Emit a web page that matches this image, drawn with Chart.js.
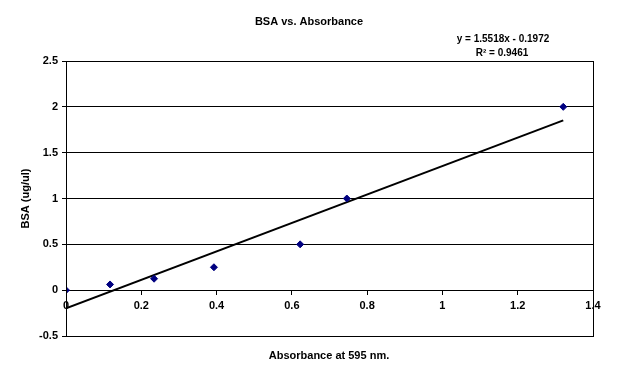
<!DOCTYPE html>
<html>
<head>
<meta charset="utf-8">
<title>BSA vs. Absorbance</title>
<script src="https://cdn.jsdelivr.net/npm/chart.js@4.4.1/dist/chart.umd.min.js"></script>
<style>
  html, body { margin: 0; padding: 0; background: #fff; }
  #wrap { width: 617px; height: 383px; }
</style>
</head>
<body>
<div id="wrap"><canvas id="bsaChart" width="617" height="383"></canvas></div>
<script>
  // Data
  const absorbance = [0, 0.117, 0.234, 0.393, 0.622, 0.746, 1.321];
  const bsa = [0, 0.0625, 0.125, 0.25, 0.5, 1, 2];

  // Trendline as printed on the chart
  const slope = 1.5518;
  const intercept = -0.1972;
  const rSquared = '0.9461';

  const chartTitle = 'BSA vs. Absorbance';
  const xTitle = 'Absorbance at 595 nm.';
  const yTitle = 'BSA (ug/ul)';

  const FONT = '"Liberation Sans", Arial, sans-serif';

  const points = absorbance.map(function (x, i) {
    return { x: x, y: bsa[i] };
  });
  const xMin = Math.min.apply(null, absorbance);
  const xMax = Math.max.apply(null, absorbance);
  const trend = [xMin, xMax].map(function (x) {
    return { x: x, y: slope * x + intercept };
  });

  // Excel style numbers: no trailing zeros (2 not 2.0)
  function plainNumber(value) {
    return String(Number(value.toFixed(2)));
  }

  // Frame round the plot area plus the free text labels
  const framePlugin = {
    id: 'frame',
    afterDraw: function (chart) {
      const ctx = chart.ctx;
      const a = chart.chartArea;
      ctx.save();
      ctx.strokeStyle = '#000';
      ctx.lineWidth = 1;
      ctx.strokeRect(a.left + 0.5, a.top + 0.5, a.right - a.left, a.bottom - a.top);

      ctx.fillStyle = '#000';
      ctx.textAlign = 'center';
      ctx.textBaseline = 'middle';
      ctx.font = 'bold 11px ' + FONT;
      ctx.fillText(chartTitle, 309, 22);
      ctx.fillText(xTitle, 329, 356);

      ctx.font = 'bold 10px ' + FONT;
      ctx.fillText('y = ' + slope + 'x - ' + Math.abs(intercept), 503, 39);
      ctx.fillText('R\u00B2 = ' + rSquared, 502, 53);
      ctx.restore();
    }
  };

  const ctx = document.getElementById('bsaChart').getContext('2d');
  const myChart = new Chart(ctx, {
    type: 'scatter',
    data: {
      datasets: [{
        label: 'BSA',
        data: points,
        pointStyle: 'rectRot',
        pointRadius: 3.5,
        borderWidth: 1,
        backgroundColor: '#000080',
        borderColor: '#000080',
        order: 1
      }, {
        label: 'Linear (BSA)',
        type: 'line',
        data: trend,
        borderColor: '#000',
        borderWidth: 2,
        pointRadius: 0,
        fill: false,
        order: 2
      }]
    },
    options: {
      responsive: false,
      animation: false,
      devicePixelRatio: 1,
      layout: {
        padding: { left: 0, right: 24, top: 61, bottom: 47 }
      },
      plugins: {
        legend: { display: false },
        title: { display: false },
        tooltip: { enabled: false }
      },
      scales: {
        x: {
          type: 'linear',
          position: { y: 0 },
          min: 0,
          max: 1.4,
          ticks: {
            stepSize: 0.2,
            color: '#000',
            padding: 5,
            maxRotation: 0,
            callback: plainNumber,
            font: { family: FONT, size: 11, weight: 'bold' }
          },
          grid: {
            drawOnChartArea: false,
            drawTicks: true,
            tickLength: 4,
            color: '#000'
          },
          border: { display: true, color: '#000', width: 1 }
        },
        y: {
          type: 'linear',
          min: -0.5,
          max: 2.5,
          afterFit: function (scale) {
            scale.width = 66;
          },
          ticks: {
            stepSize: 0.5,
            color: '#000',
            padding: 4,
            callback: plainNumber,
            font: { family: FONT, size: 11, weight: 'bold' }
          },
          grid: {
            color: '#000',
            lineWidth: 1,
            drawTicks: true,
            tickLength: 4
          },
          border: { display: true, color: '#000', width: 1 },
          title: {
            display: true,
            text: yTitle,
            color: '#000',
            padding: { top: 19, bottom: 0 },
            font: { family: FONT, size: 11, weight: 'bold' }
          }
        }
      }
    },
    plugins: [framePlugin]
  });
</script>
</body>
</html>
